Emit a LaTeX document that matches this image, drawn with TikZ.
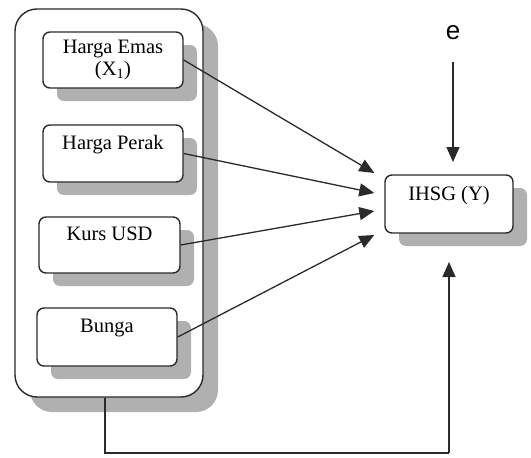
\documentclass[tikz,border=0pt]{standalone}
\usepackage{fontspec}
\setmainfont{Liberation Serif}
\newfontfamily\esans{Liberation Sans}
\usetikzlibrary{arrows.meta,shadows,calc}
\definecolor{ink}{HTML}{2A2A2A}
\definecolor{shade}{HTML}{B0B0B0}
\begin{document}
\begin{tikzpicture}[x=1pt,y=-1pt,
  varbox/.style={draw=ink, line width=1.4pt, fill=white, rounded corners=7pt,
    align=center, inner sep=0pt, font=\fontsize{20.5}{22}\selectfont,
    drop shadow={shadow xshift=14pt, shadow yshift=-13pt, fill=shade, opacity=1}},
  groupbox/.style={draw=ink, line width=1.4pt, fill=white, rounded corners=22pt,
    drop shadow={shadow xshift=15pt, shadow yshift=-15pt, fill=shade, opacity=1}},
  arr/.style={draw=ink, line width=1.3pt, -{Triangle[length=15pt,width=13pt]}},
  link/.style={draw=ink, line width=1.3pt}
]
\useasboundingbox (0,0) rectangle (531,458);

% grouping frame around the independent variables
\node[groupbox, minimum width=188pt, minimum height=388pt] (outer) at (109,203) {};

% independent variables
\node[varbox, minimum width=140pt, minimum height=56pt] (b1) at (113,60)
  {Harga Emas\\(X\textsubscript{1})};
\node[varbox, minimum width=140pt, minimum height=57pt] (b2) at (113,153.5)
  {Harga Perak\\\mbox{}};
\node[varbox, minimum width=141pt, minimum height=56pt] (b3) at (109.5,245)
  {Kurs USD\\\mbox{}};
\node[varbox, minimum width=140pt, minimum height=58pt] (b4) at (107,337)
  {Bunga\\\mbox{}};

% dependent variable
\node[varbox, minimum width=128pt, minimum height=58pt] (ihsg) at (449,204)
  {IHSG (Y)\\\mbox{}};

% error term
\node[font=\esans\fontsize{26}{30}\selectfont, inner sep=0pt] (e) at (453,33) {e};

% arrows from each variable into IHSG
\draw[arr] (b1.east) -- ($(ihsg.west)+(-10,-31)$);
\draw[arr] (b2.east) -- ($(ihsg.west)+(-10,-11)$);
\draw[arr] (b3.east) -- ($(ihsg.west)+(-10,7)$);
\draw[arr] (b4.east) -- ($(ihsg.west)+(-10,31)$);

% error arrow
\coordinate (etop) at (453,62);
\coordinate (ein) at (453,162);
\draw[arr] (etop) -- (ein);

% joint effect of the whole group
\coordinate (c1) at (105,453);
\coordinate (c2) at (449,453);
\coordinate (cin) at (449,262);
\draw[link] (outer.south -| c1) -- (c1) -- (c2);
\draw[arr] (c2) -- (cin);
\end{tikzpicture}
\end{document}
